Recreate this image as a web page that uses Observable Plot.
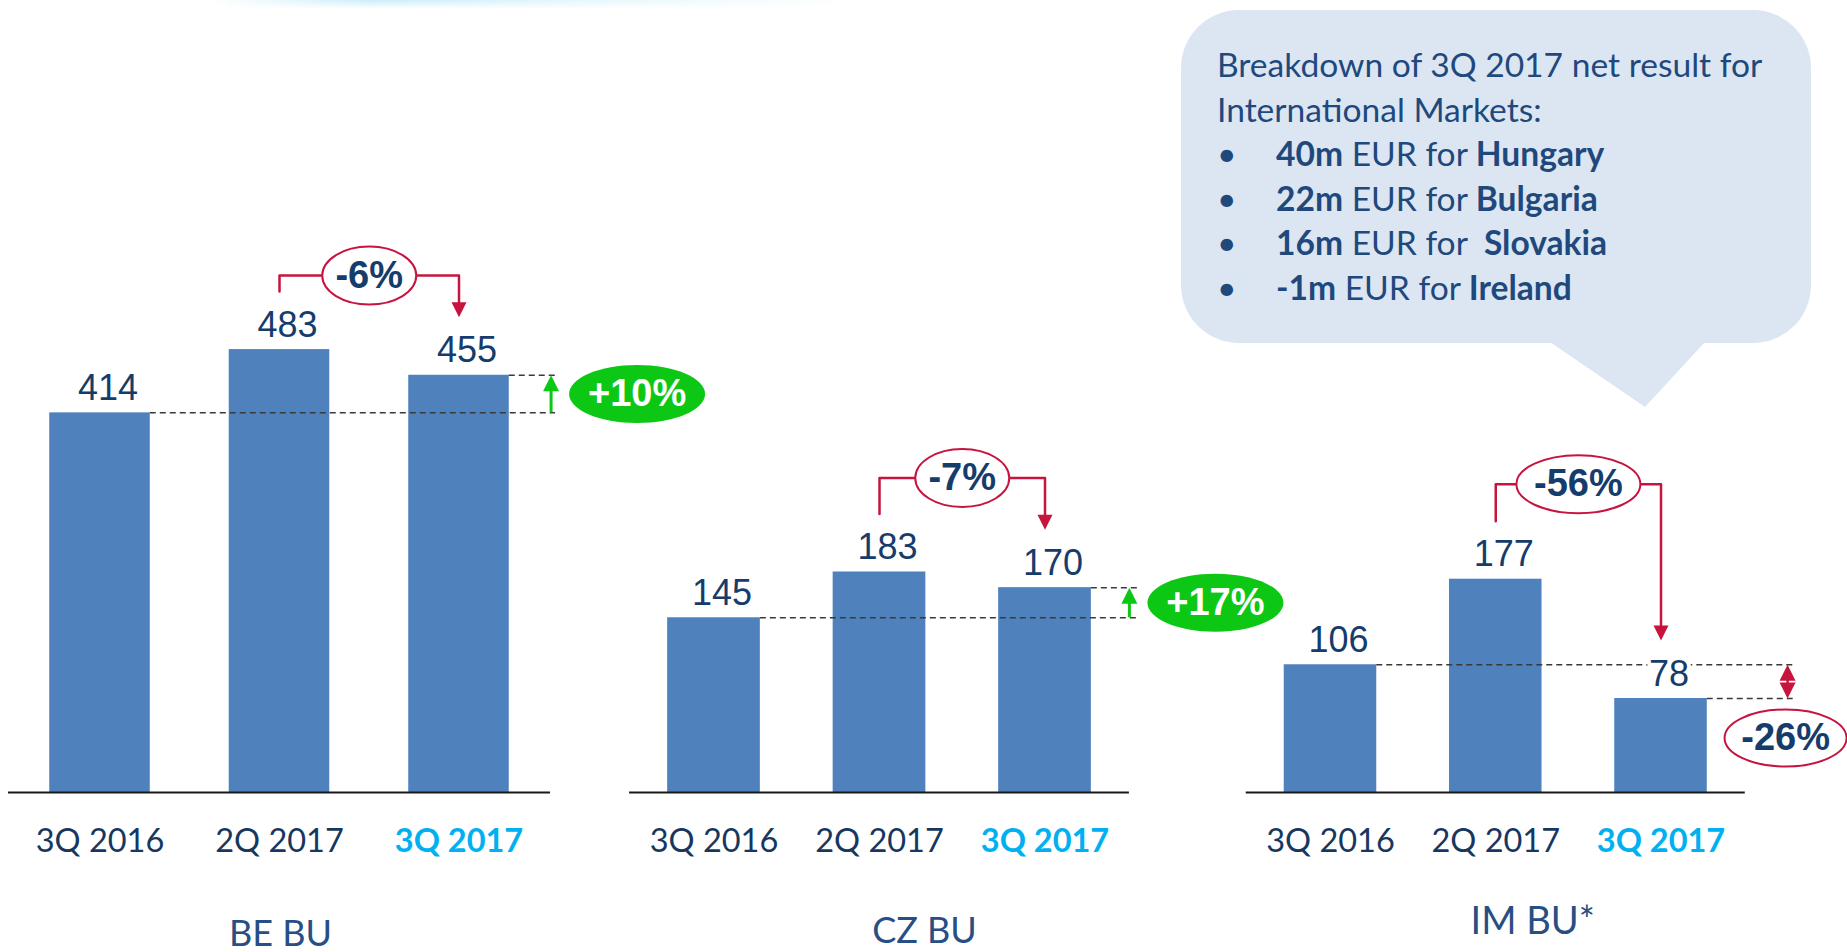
<!DOCTYPE html>
<html>
<head>
<meta charset="utf-8">
<script src="https://cdn.jsdelivr.net/npm/d3@7"></script>
<script src="https://cdn.jsdelivr.net/npm/@observablehq/plot@0.6"></script>
<style>
  html, body { margin: 0; padding: 0; background: #fff; }
  #stage { position: relative; width: 1847px; height: 952px; overflow: hidden; background: #fff; }
  #glow { position: absolute; left: 210px; top: 0; width: 650px; height: 9px;
    background: linear-gradient(to right, rgba(255,255,255,0), rgba(160,222,245,0.55) 25%, rgba(200,238,250,0.45) 60%, rgba(255,255,255,0));
    -webkit-mask-image: linear-gradient(to bottom, #000, rgba(0,0,0,0)); mask-image: linear-gradient(to bottom, #000, rgba(0,0,0,0)); }
  #bubble { position: absolute; left: 1181px; top: 10px; width: 630px; height: 333px; border-radius: 58px; background: #DCE6F2; }
  #tail { position: absolute; left: 1550px; top: 342px; width: 155px; height: 65px; background: #DCE6F2;
    clip-path: polygon(0 0, 100% 0, 61.3% 100%); }
  #btext { position: absolute; left: 1217px; top: 42px; font-family: Lato, "Open Sans", sans-serif; font-size: 33.6px;
    line-height: 44.6px; color: #1F497D; white-space: pre; }
  #btext .bul { display: inline-block; width: 59px; }
  #btext b { font-weight: 700; }
</style>
</head>
<body>
<div id="stage">
  <div id="glow"></div>
  <div id="bubble"></div>
  <div id="tail"></div>
  <div id="btext"></div>
</div>
<script>
// ---------- data ----------
const quarters = ["3Q 2016", "2Q 2017", "3Q 2017"];
const units = ["BE BU", "CZ BU", "IM BU*"];
const beValues = [414, 483, 455];
const czValues = [145, 183, 170];
const imValues = [106, 177, 78];
const qoqLabels = ["-6%", "-7%", "-56%"];
const yoyLabels = ["+10%", "+17%", "-26%"];
const breakdownTitle = ["Breakdown of 3Q 2017 net result for", "International Markets:"];
const breakdownValues = ["40m", "22m", "16m", "-1m"];
const breakdownCountries = ["Hungary", "Bulgaria", " Slovakia", "Ireland"];

// ---------- styles ----------
const barColor = "#4F81BD";
const valueColor = "#163C6C";
const tickColor = "#17375E";
const currentColor = "#00B0F0";
const titleColor = "#284F84";
const crimson = "#C7143F";
const green = "#0CC814";
const dashColor = "#3A3A3A";
const sans = "Liberation Sans, Arial, sans-serif";
const humanist = "Lato, 'Open Sans', sans-serif";

// ---------- layout (pixel geometry only) ----------
const baseY = 792;
const layout = [
  {values: beValues, c0: 99.5, c2: 458.5, k: 0.917, yMax: 520, bracketPx: 74, qoqRx: 47, dashEnd: 2.538, arrowX: 2.513, titleDx: 1, titleDy: 153, titleSize: 36, dir: "up"},
  {values: czValues, c0: 713.5, c2: 1044.5, k: 1.205, yMax: 200, bracketPx: 94, qoqRx: 47, dashEnd: 2.56, arrowX: 2.51, titleDx: 45, titleDy: 150, titleSize: 36, dir: "up"},
  {values: imValues, c0: 1330, c2: 1660.5, k: 1.205, yMax: 200, bracketPx: 95, qoqRx: 62, dashEnd: 2.80, arrowX: 2.766, titleDx: 37, titleDy: 141, titleSize: 38, dir: "down"}
];

// ---------- custom symbols ----------
function ellipse(rx, ry) {
  const c = 0.5522847498;
  return {draw(ctx) {
    ctx.moveTo(rx, 0);
    ctx.bezierCurveTo(rx, ry * c, rx * c, ry, 0, ry);
    ctx.bezierCurveTo(-rx * c, ry, -rx, ry * c, -rx, 0);
    ctx.bezierCurveTo(-rx, -ry * c, -rx * c, -ry, 0, -ry);
    ctx.bezierCurveTo(rx * c, -ry, rx, -ry * c, rx, 0);
    ctx.closePath();
  }};
}
function tipDown(w, h) { return {draw(ctx) { ctx.moveTo(-w / 2, -h); ctx.lineTo(w / 2, -h); ctx.lineTo(0, 0); ctx.closePath(); }}; }
function tipUp(w, h) { return {draw(ctx) { ctx.moveTo(-w / 2, h); ctx.lineTo(w / 2, h); ctx.lineTo(0, 0); ctx.closePath(); }}; }

function panel(p, idx) {
  const data = quarters.map((q, i) => ({q, i, v: p.values[i]}));
  const [v1, v2, v3] = p.values;
  const u = px => px / p.k;                 // pixels -> value units
  const step = (p.c2 - p.c0) / 2;
  const hx = px => px / step;               // pixels -> slot units
  const level = v2 + u(p.bracketPx);
  const tipL = v2 + u(58), tipR = v3 + u(58);
  const hw = 0.28;
  const pctSize = 38;

  const marks = [
    Plot.rectY(data, {x1: d => d.i - hw, x2: d => d.i + hw, y: "v", fill: barColor}),
    Plot.ruleY([0], {x1: -0.51, x2: 2.51, stroke: "#1a1a1a", strokeWidth: 2}),
    Plot.ruleY([v1], {x1: hw, x2: p.dashEnd, stroke: dashColor, strokeWidth: 1.5, strokeDasharray: "6,4"}),
    Plot.ruleY([v3], {x1: 2 + hw, x2: p.dashEnd, stroke: dashColor, strokeWidth: 1.5, strokeDasharray: "6,4"}),
    Plot.text(data, {x: "i", y: "v", text: d => String(d.v), dx: 8, dy: -13, lineAnchor: "bottom",
      fontSize: 36, fontFamily: sans, fill: valueColor, stroke: "white", strokeWidth: 8, paintOrder: "stroke"}),
    Plot.text(data.filter(d => d.i < 2), {x: "i", y: () => 0, text: "q", dy: 59, lineAnchor: "bottom",
      fontSize: 32.5, fontFamily: humanist, fill: tickColor}),
    Plot.text(data.filter(d => d.i === 2), {x: "i", y: () => 0, text: "q", dy: 59, lineAnchor: "bottom",
      fontSize: 32.5, fontWeight: "bold", fontFamily: humanist, fill: currentColor}),
    Plot.text([units[idx]], {x: () => 1, y: () => 0, text: d => d, dx: p.titleDx, dy: p.titleDy, lineAnchor: "bottom",
      fontSize: p.titleSize, fontFamily: humanist, fill: titleColor}),
    // quarter-on-quarter bracket
    Plot.line([{x: 1, y: tipL}, {x: 1, y: level}, {x: 2, y: level}, {x: 2, y: tipR + u(10)}],
      {x: "x", y: "y", stroke: crimson, strokeWidth: 2.5, curve: "linear"}),
    Plot.dot([{x: 2, y: tipR}], {x: "x", y: "y", symbol: tipDown(15, 15), fill: crimson, stroke: "none"}),
    Plot.dot([{x: 1.5, y: level}], {x: "x", y: "y", symbol: ellipse(p.qoqRx, 29), fill: "white", stroke: crimson, strokeWidth: 2}),
    Plot.text([qoqLabels[idx]], {x: () => 1.5, y: () => level, text: d => d, lineAnchor: "middle",
      fontSize: pctSize, fontWeight: "bold", fontFamily: sans, fill: valueColor})
  ];

  if (p.dir === "up") {
    const mid = (v1 + v3) / 2;
    const ex = p.arrowX + hx(86);
    marks.push(
      Plot.ruleX([p.arrowX], {y1: v1, y2: v3 - u(12), stroke: green, strokeWidth: 3}),
      Plot.dot([{x: p.arrowX, y: v3}], {x: "x", y: "y", symbol: tipUp(16, 16), fill: green, stroke: "none"}),
      Plot.dot([{x: ex, y: mid}], {x: "x", y: "y", symbol: ellipse(68, 29), fill: green, stroke: "none"}),
      Plot.text([yoyLabels[idx]], {x: () => ex, y: () => mid, text: d => d, lineAnchor: "middle",
        fontSize: pctSize, fontWeight: "bold", fontFamily: sans, fill: "white"})
    );
  } else {
    const ex = p.arrowX - hx(2);
    const ey = v3 - u(39.5);
    marks.push(
      Plot.ruleX([p.arrowX], {y1: v3 + u(8), y2: v1 - u(8), stroke: crimson, strokeWidth: 2.5}),
      Plot.dot([{x: p.arrowX, y: v1}], {x: "x", y: "y", symbol: tipUp(16, 16), fill: crimson, stroke: "none"}),
      Plot.dot([{x: p.arrowX, y: v3}], {x: "x", y: "y", symbol: tipDown(16, 16), fill: crimson, stroke: "none"}),
      Plot.dot([{x: ex, y: ey}], {x: "x", y: "y", symbol: ellipse(61, 28.5), fill: "white", stroke: crimson, strokeWidth: 2}),
      Plot.text([yoyLabels[idx]], {x: () => ex, y: () => ey, text: d => d, lineAnchor: "middle",
        fontSize: pctSize, fontWeight: "bold", fontFamily: sans, fill: valueColor})
    );
  }

  const svg = Plot.plot({
    width: 1847, height: 952, margin: 0,
    x: {type: "linear", domain: [0, 2], range: [p.c0, p.c2], axis: null},
    y: {type: "linear", domain: [0, p.yMax], range: [baseY, baseY - p.k * p.yMax], axis: null},
    marks
  });
  svg.style.position = "absolute";
  svg.style.left = "0px";
  svg.style.top = "0px";
  svg.style.background = "transparent";
  svg.style.overflow = "visible";
  svg.style.maxWidth = "none";
  return svg;
}

const stage = document.getElementById("stage");
layout.forEach((p, i) => stage.appendChild(panel(p, i)));

// ---------- breakdown bubble ----------
const bt = document.getElementById("btext");
let html = breakdownTitle.join("\n") + "\n";
html += breakdownValues.map((v, i) =>
  `<span class="bul">\u2022</span><b>${v}</b> EUR for <b>${breakdownCountries[i]}</b>`).join("\n");
bt.innerHTML = html;
</script>
</body>
</html>
